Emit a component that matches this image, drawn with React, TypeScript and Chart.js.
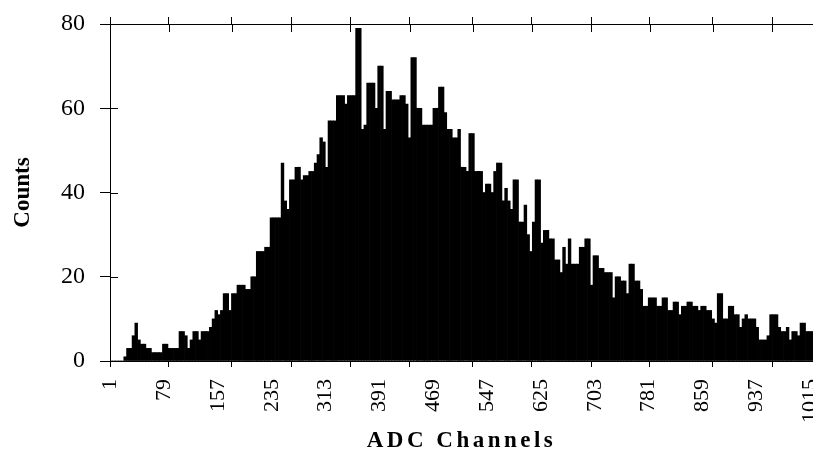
import React, { useEffect, useRef } from 'react';
import { Chart, registerables } from 'chart.js';

Chart.register(...registerables);

// Histogram: counts per 4-channel bin (channels 1-1024)
const BIN_WIDTH = 4;
// bins 0-63 (channels 1-256)
const COUNTS_1 = [
  0, 0, 0, 0, 0, 1, 3, 3, 6, 9, 5, 4, 4, 3, 3, 2,
  2, 2, 2, 4, 4, 3, 3, 3, 3, 7, 7, 6, 3, 5, 7, 7,
  5, 7, 7, 7, 8, 10, 12, 11, 12, 16, 16, 12, 16, 16, 18, 18,
  18, 17, 17, 20, 20, 26, 26, 26, 27, 27, 34, 34, 34, 34, 47, 38,
];
// bins 64-127 (channels 257-512)
const COUNTS_2 = [
  36, 43, 43, 46, 46, 43, 44, 44, 45, 45, 47, 49, 53, 52, 46, 57,
  57, 57, 63, 63, 63, 61, 63, 63, 63, 79, 79, 55, 56, 66, 66, 66,
  60, 70, 70, 55, 64, 64, 62, 62, 62, 63, 63, 61, 53, 72, 72, 60,
  60, 56, 56, 56, 56, 60, 60, 65, 65, 59, 55, 55, 53, 53, 55, 46,
];
// bins 128-191 (channels 513-768)
const COUNTS_3 = [
  46, 45, 54, 54, 45, 45, 45, 40, 42, 42, 40, 45, 47, 47, 38, 41,
  38, 36, 43, 43, 33, 33, 37, 30, 26, 33, 43, 43, 28, 31, 31, 29,
  29, 24, 24, 21, 27, 23, 29, 23, 23, 23, 27, 27, 29, 29, 18, 25,
  25, 22, 22, 21, 21, 21, 15, 20, 20, 19, 19, 16, 23, 23, 19, 19,
];
// bins 192-255 (channels 769-1024)
const COUNTS_4 = [
  17, 13, 13, 15, 15, 15, 13, 13, 15, 15, 12, 12, 14, 14, 11, 13,
  13, 14, 14, 13, 13, 12, 13, 13, 12, 12, 10, 9, 16, 16, 10, 10,
  13, 13, 11, 11, 8, 10, 11, 10, 10, 10, 8, 5, 5, 5, 6, 11,
  11, 11, 8, 7, 7, 8, 5, 7, 7, 6, 9, 9, 7, 7, 7, 7,
];

const X_TICK_LABELS = [1, 79, 157, 235, 313, 391, 469, 547, 625, 703, 781, 859, 937, 1015];
const X_TICK_MARKS = [0.5, 86, 177, 263, 349, 435, 526, 612, 698, 783, 874, 960];
const Y_TICKS = [0, 20, 40, 60, 80];

const X_MIN = 0.5;
const X_MAX = 1019.3;

const SERIF = '"Liberation Serif", "Times New Roman", Times, serif';

const innerTicks = {
  id: 'innerTicks',
  beforeDatasetsDraw(chart: any) {
    const { ctx, chartArea, scales } = chart;
    ctx.save();
    ctx.strokeStyle = '#000';
    ctx.lineWidth = 1;
    ctx.beginPath();
    for (const v of X_TICK_MARKS) {
      const x = Math.round(scales.xTop.getPixelForValue(v)) + 0.5;
      ctx.moveTo(x, chartArea.top);
      ctx.lineTo(x, chartArea.top + 8);
    }
    for (const v of Y_TICKS) {
      const y = Math.round(scales.y.getPixelForValue(v)) + 0.5;
      ctx.moveTo(chartArea.left, y);
      ctx.lineTo(chartArea.left + 8, y);
    }
    ctx.stroke();
    ctx.restore();
  },
};

export default function App() {
  const ref = useRef<HTMLCanvasElement | null>(null);

  useEffect(() => {
    const canvas = ref.current;
    if (!canvas) return;
    const counts = [...COUNTS_1, ...COUNTS_2, ...COUNTS_3, ...COUNTS_4];
    const points = counts.map((c, i) => ({ x: i * BIN_WIDTH + BIN_WIDTH / 2 + 0.5, y: c }));

    const chart = new Chart(canvas, {
      type: 'bar',
      data: {
        datasets: [
          {
            data: points as any,
            backgroundColor: '#000',
            borderWidth: 0,
            barPercentage: 1,
            categoryPercentage: 1,
            xAxisID: 'x',
            yAxisID: 'y',
          },
        ],
      },
      plugins: [innerTicks],
      options: {
        animation: false,
        responsive: false,
        devicePixelRatio: 1,
        layout: { padding: 0 },
        plugins: { legend: { display: false }, tooltip: { enabled: false } },
        scales: {
          x: {
            type: 'linear',
            position: 'bottom',
            offset: false,
            min: X_MIN,
            max: X_MAX,
            afterBuildTicks: (s: any) => {
              s.ticks = [...X_TICK_LABELS, ...X_TICK_MARKS].map((v) => ({ value: v }));
            },
            ticks: {
              autoSkip: false,
              minRotation: 90,
              maxRotation: 90,
              padding: 12,
              color: '#000',
              font: { family: SERIF, size: 22 },
              callback: (v: any, i: number) => (i < X_TICK_LABELS.length ? String(v) : ''),
            },
            grid: {
              offset: false,
              drawOnChartArea: false,
              tickLength: 6,
              tickWidth: 1,
              tickColor: (ctx: any) => (ctx.index >= X_TICK_LABELS.length ? '#000' : 'rgba(0,0,0,0)'),
            },
            border: { color: '#000', width: 1 },
            title: {
              display: true,
              text: 'ADC Channels',
              color: '#000',
              font: { family: SERIF, size: 23, weight: 'bold' },
              padding: { top: 0, bottom: 0 },
            },
            afterFit: (s: any) => {
              s.height = 94;
              s.paddingLeft = 0;
              s.paddingRight = 0;
            },
          } as any,
          xTop: {
            type: 'linear',
            position: 'top',
            offset: false,
            min: X_MIN,
            max: X_MAX,
            afterBuildTicks: (s: any) => {
              s.ticks = X_TICK_MARKS.map((v) => ({ value: v }));
            },
            ticks: { display: false },
            grid: { offset: false, drawOnChartArea: false, tickLength: 7, color: '#000' },
            border: { color: '#000', width: 1 },
            afterFit: (s: any) => {
              s.height = 24;
              s.paddingLeft = 0;
              s.paddingRight = 0;
            },
          } as any,
          y: {
            type: 'linear',
            min: 0,
            max: 80,
            afterBuildTicks: (s: any) => {
              s.ticks = Y_TICKS.map((v) => ({ value: v }));
            },
            ticks: {
              padding: 15,
              color: '#000',
              font: { family: SERIF, size: 24 },
            },
            grid: { drawOnChartArea: false, tickLength: 10, color: '#000' },
            border: { color: '#000', width: 1 },
            title: {
              display: true,
              text: 'Counts',
              color: '#000',
              font: { family: SERIF, size: 23, weight: 'bold' },
              padding: { top: 9, bottom: 0 },
            },
            afterFit: (s: any) => {
              s.width = 110;
              s.paddingTop = 0;
              s.paddingBottom = 0;
            },
          } as any,
        },
      },
    });

    // wider letter spacing for the x-axis title, as in the reference
    const xs: any = chart.scales.x;
    const origDrawTitle = xs.drawTitle.bind(xs);
    xs.drawTitle = function () {
      const ctx: any = chart.ctx;
      ctx.save();
      ctx.letterSpacing = '3.5px';
      origDrawTitle();
      ctx.restore();
    };
    chart.draw();

    return () => chart.destroy();
  }, []);

  return (
    <div style={{ position: 'fixed', left: 0, top: 0, width: 813, height: 455, overflow: 'hidden', background: '#fff' }}>
      <canvas ref={ref} width={813} height={455} style={{ display: 'block' }} />
    </div>
  );
}
